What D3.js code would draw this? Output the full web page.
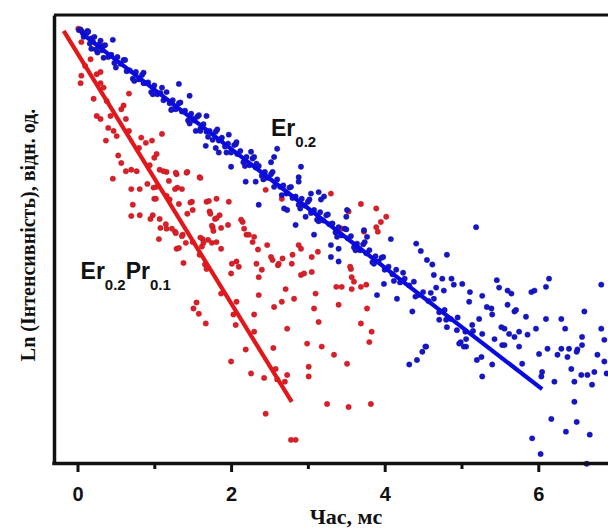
<!DOCTYPE html>
<html>
<head>
<meta charset="utf-8">
<script src="https://cdn.jsdelivr.net/npm/d3@7"></script>
<style>
  html, body { margin: 0; padding: 0; background: #fff; }
  svg { display: block; }
</style>
</head>
<body>
<svg id="chart" width="608" height="531"></svg>
<script>
// ---------- DATA ----------
const xTicksMajor = [0, 2, 4, 6];
const xTicksMinor = [1, 3, 5, 7];
const xLabel = "Час, мс";
const yLabel = "Ln (Інтенсивність), відн. од.";

// Er0.2 (blue) decay points: [time, ln I]
const blueBand = [
  [0.02,-0.19],[0.06,-0.21],[0.10,-0.26],[0.13,-0.20],[0.18,-0.30],[0.22,-0.28],[0.30,-0.33],[0.34,-0.40],
  [0.04,-0.18],[0.08,-0.28],[0.12,-0.23],[0.16,-0.37],[0.20,-0.34],[0.24,-0.45],[0.28,-0.38],[0.32,-0.46],
  [0.36,-0.39],[0.40,-0.55],[0.44,-0.52],[0.48,-0.63],[0.52,-0.55],[0.56,-0.64],[0.60,-0.59],[0.64,-0.74],
  [0.68,-0.73],[0.72,-0.84],[0.76,-0.75],[0.80,-0.85],[0.84,-0.79],[0.88,-0.90],[0.92,-0.89],[0.96,-1.02],
  [1.00,-0.93],[1.04,-1.05],[1.08,-1.03],[1.12,-1.13],[1.16,-1.02],[1.20,-1.17],[1.24,-1.13],[1.28,-1.25],
  [1.32,-1.17],[1.36,-1.28],[1.40,-1.27],[1.44,-1.40],[1.48,-1.31],[1.52,-1.40],[1.56,-1.35],[1.60,-1.51],
  [1.64,-1.45],[1.68,-1.55],[1.72,-1.54],[1.76,-1.66],[1.80,-1.55],[1.84,-1.67],[1.88,-1.63],[1.92,-1.75],
  [1.96,-1.71],[2.00,-1.83],[2.04,-1.73],[2.08,-1.85],[2.12,-1.81],[2.16,-1.96],[2.20,-1.89],[2.24,-2.00],
  [2.28,-1.91],[2.32,-2.03],[2.36,-2.01],[2.40,-2.14],[2.44,-2.09],[2.48,-2.17],[2.52,-2.12],[2.56,-2.29],
  [2.60,-2.19],[2.64,-2.29],[2.68,-2.27],[2.72,-2.38],[2.76,-2.30],[2.80,-2.44],[2.84,-2.42],[2.88,-2.53],
  [2.92,-2.45],[2.96,-2.54],[3.00,-2.49],[3.04,-2.64],[3.08,-2.60],[3.12,-2.73],[3.16,-2.63],[3.20,-2.74],
  [3.24,-2.67],[3.28,-2.79],[3.32,-2.78],[3.36,-2.90],[3.40,-2.83],[3.44,-2.94],[3.48,-2.85],[3.52,-2.98],
  [3.56,-2.95],[3.60,-3.10],[3.64,-3.05],[3.68,-3.14],[3.72,-3.06],[3.76,-3.18],[3.80,-3.14],[3.84,-3.30],
  [3.88,-3.22],[3.92,-3.29],[3.96,-3.24],[4.00,-3.40],[4.05,-3.36],[4.10,-3.46],[4.15,-3.40],[4.20,-3.57],
  [4.26,-3.52],[4.32,-3.61],[4.38,-3.56],[4.44,-3.74],[4.50,-3.70],[4.57,-3.82],[4.64,-3.79],[4.71,-3.97],
  [4.78,-3.94],[4.86,-4.06],[4.95,-4.04],[5.05,-4.23],[5.15,-4.22],
  [0.14,-0.21],[0.26,-0.49],[0.50,-0.69],[0.62,-0.59],[0.74,-0.87],[0.86,-0.76],[0.98,-1.05],[1.10,-0.96],
  [1.22,-1.26],[1.34,-1.16],[1.46,-1.44],[1.58,-1.33],[1.70,-1.62],[1.82,-1.52],[1.94,-1.83],[2.06,-1.72],
  [2.18,-2.01],[2.30,-1.89],[2.42,-2.19],[2.54,-2.09],[2.66,-2.40],[2.78,-2.29],[2.90,-2.58],[3.02,-2.46],
  [3.14,-2.75],[3.26,-2.66],[3.38,-2.96],[3.50,-2.86],[3.62,-3.14],[3.74,-3.03],[3.86,-3.32],[3.98,-3.23],
  [4.12,-3.55],[4.24,-3.44],[4.40,-3.76],[4.60,-3.71],[4.80,-4.07]
];
const blueScatter = [
  [0.46,-0.32],[0.18,-0.44],[0.34,-0.56],[0.86,-0.90],[1.23,-1.25],[1.51,-1.38],[1.68,-1.34],[1.60,-1.54],
  [1.54,-1.54],[1.67,-1.74],[1.80,-1.77],[1.84,-1.83],[1.87,-1.65],[1.32,-0.91],[1.46,-1.07],
  [2.60,-1.78],[2.56,-1.89],[2.52,-1.96],[2.91,-2.02],[2.88,-2.16],[2.88,-2.22],[2.19,-2.22],[2.32,-2.22],
  [2.00,-2.02],[2.36,-2.53],[2.69,-2.58],[2.73,-2.60],[2.84,-2.80],[3.08,-2.93],[2.97,-2.69],[3.04,-2.38],
  [3.14,-2.36],[3.21,-2.42],[3.17,-2.46],[3.51,-2.60],[3.50,-2.69],[3.73,-2.87],[3.77,-2.96],[4.08,-2.99],
  [3.30,-3.07],[3.40,-3.12],[1.97,-1.59],[2.07,-1.69],[2.26,-1.82],[2.33,-1.98],
  [5.19,-2.83],[4.41,-3.05],[4.47,-3.15],[4.81,-3.20],[4.55,-3.27],[4.62,-3.33],[4.64,-3.47],[4.75,-3.52],
  [4.87,-3.52],[4.90,-3.60],[5.01,-3.59],[4.77,-3.68],[4.67,-3.64],[5.11,-3.70],[5.27,-3.75],[5.10,-3.83],
  [5.46,-3.54],[5.49,-3.64],[5.60,-3.68],[5.65,-3.72],[5.91,-3.70],[5.95,-3.68],[6.10,-3.63],[6.14,-3.52],
  [5.33,-3.90],[5.39,-3.92],[5.40,-4.00],[5.23,-4.06],[5.60,-3.87],[5.69,-3.96],[5.71,-3.94],[5.84,-4.03],
  [5.52,-4.17],[5.56,-4.19],[5.62,-4.26],[5.69,-4.30],[5.75,-4.23],[5.86,-4.27],[5.43,-4.33],[5.53,-4.41],
  [5.97,-4.19],[6.10,-4.06],[6.30,-4.06],[6.35,-4.19],[6.60,-3.96],[6.57,-4.30],[6.82,-3.60],[6.82,-4.19],
  [6.86,-4.34],[4.16,-3.79],[4.36,-3.96],[4.54,-4.43],[4.71,-4.07],[4.81,-4.17],[4.94,-4.21],[4.99,-4.37],
  [5.06,-4.33],[5.06,-4.43],[5.27,-4.26],[5.14,-4.14],[6.12,-4.46],[6.30,-4.46],[6.40,-4.46],[6.51,-4.47],
  [4.32,-4.67],[4.42,-4.61],[4.49,-4.50],[4.53,-4.43],[4.97,-4.39],[5.03,-4.43],[5.20,-4.61],[5.26,-4.57],
  [5.27,-4.83],[5.40,-4.67],[5.56,-4.41],[5.75,-4.43],[5.79,-4.66],[6.01,-4.53],[6.05,-4.77],[6.04,-4.83],
  [6.21,-4.90],[6.25,-4.54],[6.38,-4.57],[6.43,-4.73],[6.47,-4.90],[6.50,-4.50],[6.56,-4.81],[6.57,-4.41],
  [6.64,-4.81],[6.70,-4.94],[6.73,-4.77],[6.77,-4.54],[6.86,-4.63],[6.89,-4.79],[6.47,-5.17],[6.17,-5.40],
  [6.50,-5.44],[6.36,-5.57],[6.67,-5.61],[5.92,-5.66],[6.03,-5.87],[6.63,-6.00],
  [3.30,-3.23],[3.40,-3.29],[3.90,-3.74],[3.99,-3.59]
];

// Er0.2Pr0.1 (red) decay points: [time, ln I]
const redPoints = [
  [0.01,-0.17],[0.17,-0.58],[0.10,-0.67],[0.05,-0.80],[0.04,-0.90],[0.25,-0.78],[0.30,-0.90],[0.34,-0.96],
  [0.67,-1.04],[0.21,-1.11],[0.38,-1.14],[0.57,-1.25],[0.25,-1.34],[0.30,-1.38],[0.43,-1.34],[0.40,-1.50],
  [0.47,-1.54],[0.51,-1.61],[0.37,-1.67],[0.63,-1.38],[0.67,-1.54],[0.83,-1.63],[0.89,-1.70],[0.97,-1.67],
  [1.10,-1.58],[0.80,-1.77],[1.03,-1.85],[0.53,-1.87],[0.57,-1.97],
  [0.05,-0.35],[0.30,-0.75],[0.60,-1.20],[1.00,-1.90],[1.30,-2.30],[1.70,-3.00],[2.00,-3.45],[2.30,-4.00],
  [2.55,-4.45],[2.70,-4.90],
  [0.46,-2.18],[0.70,-2.06],[0.94,-2.00],[1.07,-2.06],[1.16,-2.09],[1.29,-2.12],[1.43,-2.09],[1.59,-2.16],
  [0.91,-2.25],[1.03,-2.29],[1.00,-2.45],[1.20,-2.46],[1.27,-2.32],[1.36,-2.32],[1.49,-2.49],[1.50,-2.60],
  [1.43,-2.65],[1.68,-2.49],[1.72,-2.62],[1.79,-2.72],[1.76,-2.83],[1.85,-2.67],[1.96,-2.80],[2.15,-2.76],
  [2.20,-2.93],[2.28,-3.03],[2.35,-3.13],[2.47,-3.07],[2.54,-3.27],[2.67,-3.25],[2.80,-3.20],[1.63,-2.99],
  [1.62,-3.09],[1.81,-3.03],[1.07,-2.72],[1.16,-2.85],[1.27,-2.89],[1.37,-2.93],[1.29,-3.12],[1.50,-3.03],
  [1.59,-3.20],[1.66,-3.33],[0.98,-2.67],[0.81,-2.67],[0.72,-2.53],[0.81,-2.32],[2.07,-3.29],[2.33,-3.32],
  [2.61,-3.34],
  [0.63,-2.08],[0.77,-2.08],[1.12,-2.08],[1.28,-2.10],[1.42,-2.10],[1.60,-2.17],[0.70,-2.32],[1.19,-2.21],
  [0.99,-2.30],[1.02,-2.45],[1.16,-2.41],[1.32,-2.52],[1.47,-2.50],[1.71,-2.48],[1.81,-2.45],[1.73,-2.65],
  [1.81,-2.71],[1.75,-2.81],[1.87,-2.84],[1.77,-2.88],[0.70,-2.68],[0.95,-2.72],[1.08,-2.84],[1.15,-2.79],
  [1.23,-2.85],[1.28,-2.91],[1.36,-2.95],[1.06,-2.99],[1.32,-3.11],[1.41,-3.04],[1.60,-2.97],[1.64,-3.04],
  [1.75,-3.04],[1.87,-3.12],[1.38,-3.31],[1.68,-3.39],[1.55,-3.84],[1.51,-3.92],[1.58,-3.99],[1.67,-4.12],
  [1.87,-3.72],
  [2.01,-3.32],[2.10,-3.36],[2.52,-3.23],[2.62,-3.32],[2.79,-3.32],[3.05,-3.23],[2.36,-3.50],[2.40,-3.40],
  [2.91,-3.47],[2.95,-3.45],[3.05,-3.43],[2.36,-3.74],[2.71,-3.66],[2.66,-3.83],[2.82,-3.79],[3.10,-3.72],
  [2.56,-3.90],[2.07,-3.83],[2.03,-4.00],[2.06,-4.14],[2.30,-4.23],[2.19,-4.47],[2.00,-4.63],[2.26,-4.79],
  [2.43,-4.85],[2.58,-4.73],[2.60,-4.87],[2.73,-4.81],[3.01,-4.70],[3.01,-4.83],[2.73,-4.19],[3.08,-3.92],
  [3.14,-4.10],[2.99,-4.39],[3.18,-4.43],[3.34,-4.54],[3.51,-4.66],[3.40,-3.87],[3.37,-3.63],[3.44,-3.63],
  [3.57,-3.66],[3.76,-3.60],[3.77,-3.92],[3.69,-4.12],[3.83,-4.23],[3.80,-4.37],[3.25,-5.20],[3.53,-5.24],
  [3.82,-5.20],[2.45,-5.33],[2.78,-5.68],[2.84,-5.68],[3.56,-3.39],[3.57,-3.50],[3.60,-3.56],[3.69,-3.63],
  [1.97,-2.49],[2.13,-2.73],[2.17,-2.85],[2.23,-2.93],[2.30,-2.96],[2.45,-2.33],[2.66,-2.45],[3.30,-2.38],
  [3.69,-2.52],[3.89,-2.58],[4.02,-2.69],[3.95,-2.76],[3.89,-2.83],[3.53,-2.62],[3.44,-2.85],[3.73,-2.89],
  [2.88,-3.07],[2.91,-3.12],[3.91,-2.89],[3.13,-3.16],[3.55,-3.36]
];

// Linear fits
const redFit  = [[-0.18, -0.20], [2.79, -5.17]];
const blueFit = [[0.05, -0.23], [6.05, -5.00]];

// Series labels
const blueLabel = { main: "Er", sub: "0.2", at: [2.52, -1.61] };
const redLabel  = { parts: [["Er", "0.2"], ["Pr", "0.1"]], at: [0.04, -3.52] };

// ---------- CHART ----------
const svg = d3.select("#chart");
const mLeft = 54, mRight = 620, mTop = 15, mBottom = 463;

const x = d3.scaleLinear().domain([-0.306, 7.064]).range([mLeft, mRight]);
const y = d3.scaleLinear().domain([-5.99, 0.013]).range([mBottom, mTop]);

const RED = "#e3161a", RED_PT = "#dc1f26";
const BLUE = "#0a0ae0", BLUE_PT = "#1515cc";

const plot = svg.append("g");

// scatter
plot.selectAll("circle.red").data(redPoints).join("circle")
  .attr("class", "red")
  .attr("cx", d => x(d[0])).attr("cy", d => y(d[1])).attr("r", 2.7)
  .attr("fill", RED_PT).attr("stroke", "#a81826").attr("stroke-width", 0.4);

plot.selectAll("circle.blue").data(blueBand.concat(blueScatter)).join("circle")
  .attr("class", "blue")
  .attr("cx", d => x(d[0])).attr("cy", d => y(d[1])).attr("r", 2.7)
  .attr("fill", BLUE_PT).attr("stroke", "#10108a").attr("stroke-width", 0.4);

// fit lines
const line = d3.line().x(d => x(d[0])).y(d => y(d[1]));
plot.append("path").datum(redFit).attr("d", line)
  .attr("stroke", RED).attr("stroke-width", 4.2).attr("fill", "none");
plot.append("path").datum(blueFit).attr("d", line)
  .attr("stroke", BLUE).attr("stroke-width", 4.2).attr("fill", "none");

// axes / frame
const axisColor = "#111";
svg.append("line").attr("x1", mLeft).attr("x2", mRight).attr("y1", mTop).attr("y2", mTop)
  .attr("stroke", axisColor).attr("stroke-width", 3);

const yAxis = svg.append("g").attr("transform", `translate(${mLeft},0)`)
  .call(d3.axisLeft(y).tickValues([]).tickSizeOuter(0));
yAxis.select(".domain").attr("stroke", axisColor).attr("stroke-width", 3.5);

const xMinor = svg.append("g").attr("transform", `translate(0,${mBottom})`)
  .call(d3.axisBottom(x).tickValues(xTicksMinor).tickSize(6).tickSizeOuter(0).tickFormat(""));
xMinor.select(".domain").remove();
xMinor.selectAll(".tick line").attr("stroke", axisColor).attr("stroke-width", 3);

const xAxis = svg.append("g").attr("transform", `translate(0,${mBottom})`)
  .call(d3.axisBottom(x).tickValues(xTicksMajor).tickSize(9).tickSizeOuter(0)
        .tickPadding(15).tickFormat(d3.format("d")));
xAxis.select(".domain").attr("stroke", axisColor).attr("stroke-width", 3.5)
  .attr("d", `M${mLeft - 1.75},0.5H${mRight}`);
xAxis.selectAll(".tick line").attr("stroke", axisColor).attr("stroke-width", 3);
xAxis.selectAll(".tick text")
  .attr("font-family", "'Liberation Sans', Arial, sans-serif")
  .attr("font-weight", "bold").attr("font-size", 20).attr("fill", "#111");

// axis titles
svg.append("text")
  .attr("transform", `translate(35,${(mTop + mBottom) / 2 - 4}) rotate(-90)`)
  .attr("text-anchor", "middle")
  .attr("font-family", "'Liberation Serif', 'Times New Roman', serif")
  .attr("font-weight", "bold").attr("font-size", 20).attr("fill", "#111")
  .text(yLabel);

svg.append("text")
  .attr("x", 346).attr("y", 524)
  .attr("text-anchor", "middle")
  .attr("font-family", "'Liberation Serif', 'Times New Roman', serif")
  .attr("font-weight", "bold").attr("font-size", 22).attr("fill", "#111")
  .text(xLabel);

// series labels
const labelFont = "'Liberation Sans', Arial, sans-serif";
const bl = svg.append("text")
  .attr("x", x(blueLabel.at[0])).attr("y", y(blueLabel.at[1]))
  .attr("font-family", labelFont).attr("font-weight", "bold")
  .attr("font-size", 23).attr("fill", "#111");
bl.append("tspan").text(blueLabel.main);
bl.append("tspan").attr("font-size", 15).attr("dy", 11).text(blueLabel.sub);

const rl = svg.append("text")
  .attr("x", x(redLabel.at[0])).attr("y", y(redLabel.at[1]))
  .attr("font-family", labelFont).attr("font-weight", "bold")
  .attr("font-size", 23).attr("fill", "#111");
redLabel.parts.forEach(([m, s], i) => {
  rl.append("tspan").attr("dy", i === 0 ? 0 : -11).text(m);
  rl.append("tspan").attr("font-size", 15).attr("dy", 11).text(s);
});
</script>
</body>
</html>
